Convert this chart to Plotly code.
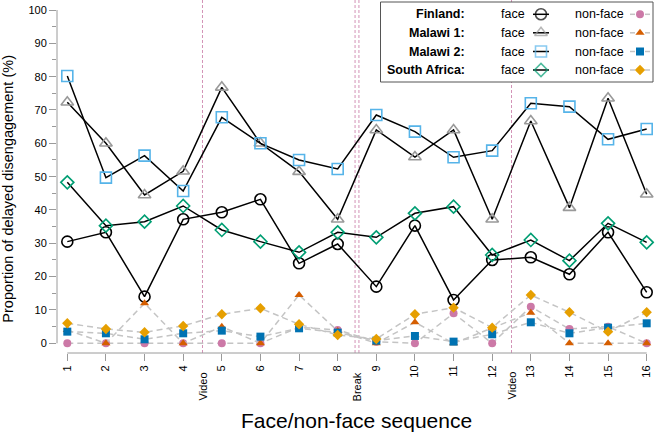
import plotly.graph_objects as go

# ---------------- data ----------------
sequence = list(range(1, 17))
tick_labels = [str(i) for i in sequence]

finland_face = [30.5, 33.3, 14.0, 37.2, 39.3, 43.2, 24.0, 29.8, 17.0, 35.3, 13.0, 25.0, 25.8, 20.7, 33.3, 15.3]
malawi1_face = [72.3, 60.0, 44.5, 51.6, 76.8, 60.0, 51.5, 37.2, 64.0, 55.9, 64.0, 37.2, 66.7, 40.7, 73.5, 44.7]
malawi2_face = [80.2, 49.7, 56.3, 45.7, 67.8, 60.0, 55.0, 52.3, 68.5, 63.5, 55.8, 57.8, 72.0, 71.0, 61.2, 64.3]
safrica_face = [48.3, 35.3, 36.5, 41.2, 34.0, 30.5, 27.3, 33.3, 31.8, 39.0, 41.0, 26.5, 31.0, 24.8, 36.0, 30.3]

finland_nonface = [0, 0, 0, 0, 0, 0, 4.8, 4.0, 0.5, 0, 9.0, 0, 11.0, 4.3, 5.0, 0]
malawi1_nonface = [4.0, 0, 12.0, 0, 5.0, 0, 14.5, 3.7, 0, 6.3, 0, 4.5, 9.2, 0, 0, 0]
malawi2_nonface = [3.5, 3.0, 1.2, 3.0, 3.8, 2.0, 4.5, 3.2, 0.8, 2.2, 0.5, 2.7, 6.3, 3.0, 4.7, 6.0]
safrica_nonface = [6.0, 4.3, 3.3, 5.2, 8.7, 10.5, 5.7, 2.5, 1.3, 8.7, 10.7, 4.7, 14.5, 9.3, 3.5, 9.3]

countries = ["Finland:", "Malawi 1:", "Malawi 2:", "South Africa:"]
event_positions = [4.5, 8.5, 12.5]
event_labels = ["Video", "Break", "Video"]

# ---------------- style ----------------
FONT = "Liberation Sans, Arial, Helvetica, sans-serif"
AXIS_GRAY = "#9a9a9a"
DASH_GRAY = "#c4c4c4"
EVENT_COLOR = "#d393b7"

face_styles = [
    dict(symbol="circle-open", color="#000000", size=11),
    dict(symbol="triangle-up-open", color="#999999", size=11),
    dict(symbol="square-open", color="#56B4E9", size=11),
    dict(symbol="diamond-open", color="#009E73", size=10),
]
nonface_styles = [
    dict(symbol="circle", color="#CC79A7", size=8),
    dict(symbol="triangle-up", color="#D55E00", size=8),
    dict(symbol="square", color="#0072B2", size=8),
    dict(symbol="diamond", color="#E69F00", size=8),
]

face_series = [finland_face, malawi1_face, malawi2_face, safrica_face]
nonface_series = [finland_nonface, malawi1_nonface, malawi2_nonface, safrica_nonface]

fig = go.Figure()

for vals, st in zip(face_series, face_styles):
    fig.add_trace(go.Scatter(
        x=sequence, y=vals, mode="lines+markers",
        line=dict(color="black", width=1.5),
        marker=dict(symbol=st["symbol"], size=st["size"],
                    line=dict(color=st["color"], width=1.6), color=st["color"]),
        showlegend=False, hoverinfo="skip"))

for vals, st in zip(nonface_series, nonface_styles):
    fig.add_trace(go.Scatter(
        x=sequence, y=vals, mode="lines+markers",
        line=dict(color=DASH_GRAY, width=1.5, dash="6px,4px"),
        marker=dict(symbol=st["symbol"], size=st["size"], color=st["color"],
                    line=dict(width=0)),
        showlegend=False, hoverinfo="skip"))

# ---------------- legend (pixel-coordinate overlay axes) ----------------
row_y = [14.3, 32.8, 51.5, 70.0]
for ry, fst, nst in zip(row_y, face_styles, nonface_styles):
    fig.add_trace(go.Scatter(
        x=[533, 541, 549], y=[ry, ry, ry], xaxis="x2", yaxis="y2",
        mode="lines+markers", line=dict(color="black", width=1.5),
        marker=dict(symbol=fst["symbol"], size=[0, fst["size"], 0],
                    line=dict(color=fst["color"], width=1.6), color=fst["color"]),
        showlegend=False, hoverinfo="skip"))
    fig.add_trace(go.Scatter(
        x=[630, 635, None, 645, 650], y=[ry, ry, None, ry, ry], xaxis="x2", yaxis="y2",
        mode="lines", line=dict(color=DASH_GRAY, width=1.5),
        showlegend=False, hoverinfo="skip"))
    fig.add_trace(go.Scatter(
        x=[640], y=[ry], xaxis="x2", yaxis="y2", mode="markers",
        marker=dict(symbol=nst["symbol"], size=nst["size"], color=nst["color"],
                    line=dict(width=0)),
        showlegend=False, hoverinfo="skip"))

shapes = []
# event lines
for pos in event_positions:
    if pos == 8.5:
        xs = [pos - 0.05, pos + 0.05]
    else:
        xs = [pos]
    for xv in xs:
        shapes.append(dict(type="line", xref="x", yref="paper", x0=xv, x1=xv, y0=0, y1=1,
                           line=dict(color=EVENT_COLOR, width=1, dash="3px,2px"), layer="below"))
# axis lines (R style, spanning data extent only)
shapes.append(dict(type="line", xref="paper", yref="y", x0=0, x1=0, y0=0, y1=100,
                   line=dict(color=AXIS_GRAY, width=1)))
shapes.append(dict(type="line", xref="x", yref="paper", x0=1, x1=16, y0=0, y1=0,
                   line=dict(color=AXIS_GRAY, width=1)))
# legend box
shapes.append(dict(type="rect", xref="x2", yref="y2", x0=380.5, x1=653, y0=2, y1=82,
                   line=dict(color="#555555", width=1), fillcolor="white", layer="below"))

annotations = []
for ry, name in zip(row_y, countries):
    annotations.append(dict(xref="x2", yref="y2", x=467, y=ry, text="<b>" + name + "</b>",
                            showarrow=False, xanchor="right", yanchor="middle",
                            font=dict(family=FONT, size=12.5, color="black")))
    annotations.append(dict(xref="x2", yref="y2", x=499, y=ry, text="face",
                            showarrow=False, xanchor="left", yanchor="middle",
                            font=dict(family=FONT, size=12.5, color="black")))
    annotations.append(dict(xref="x2", yref="y2", x=573, y=ry, text="non-face",
                            showarrow=False, xanchor="left", yanchor="middle",
                            font=dict(family=FONT, size=12.5, color="black")))

for pos, lab in zip(event_positions, event_labels):
    annotations.append(dict(xref="x", yref="paper", x=pos, y=-0.048, text=lab,
                            textangle=-90, showarrow=False, xanchor="center", yanchor="top",
                            font=dict(family=FONT, size=11, color="black")))

annotations.append(dict(xref="paper", yref="paper", x=0.5, y=-0.19,
                        text="Face/non-face sequence", showarrow=False,
                        xanchor="center", yanchor="middle",
                        font=dict(family=FONT, size=21, color="black")))
annotations.append(dict(xref="paper", yref="paper", x=-0.081, y=0.467,
                        text="Proportion of delayed disengagement (%)", textangle=-90,
                        showarrow=False, xanchor="center", yanchor="middle",
                        font=dict(family=FONT, size=14.5, color="black")))

fig.update_layout(
    width=656, height=433,
    margin=dict(l=57, r=0, t=0, b=80, autoexpand=False),
    paper_bgcolor="white", plot_bgcolor="white",
    showlegend=False,
    shapes=shapes, annotations=annotations,
    xaxis=dict(range=[0.7334, 16.241], tickmode="array", tickvals=sequence, ticktext=tick_labels,
               tickangle=-90, ticks="outside", ticklen=7, tickcolor=AXIS_GRAY, tickwidth=1,
               showgrid=False, zeroline=False, showline=False, automargin=False,
               tickfont=dict(family=FONT, size=11, color="black")),
    yaxis=dict(range=[-2.91, 103.0], tickmode="linear", tick0=0, dtick=10,
               ticks="outside", ticklen=7, tickcolor=AXIS_GRAY, tickwidth=1,
               minor=dict(dtick=5, tick0=0, ticks="outside", ticklen=4, tickcolor=AXIS_GRAY),
               showgrid=False, zeroline=False, showline=False, automargin=False,
               tickfont=dict(family=FONT, size=11, color="black")),
    xaxis2=dict(range=[57, 656], overlaying="x", visible=False, domain=[0, 1]),
    yaxis2=dict(range=[353, 0], overlaying="y", visible=False, domain=[0, 1]),
)

fig.write_html("out.html",
               config={"displayModeBar": False},
               post_script="document.body.style.margin='0';document.body.style.overflow='hidden';")
